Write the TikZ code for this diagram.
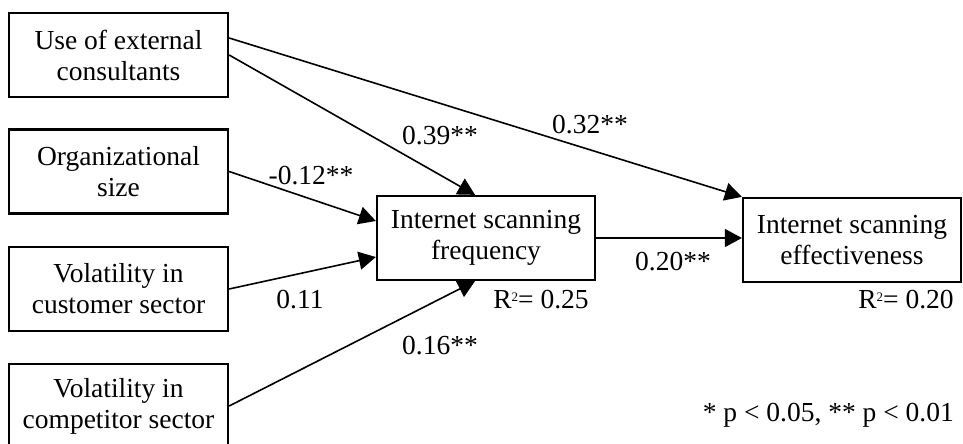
\documentclass[tikz,border=0pt]{standalone}
\usepackage{fontspec}
\setmainfont{Liberation Serif}
\usetikzlibrary{arrows.meta,calc}
\newcommand{\rsq}{R\raisebox{0.62ex}{\fontsize{13}{13}\selectfont 2}}
\begin{document}
\begin{tikzpicture}[x=1pt,y=-1pt,
  every node/.style={font=\fontsize{27.5}{31}\selectfont},
  varbox/.style={draw,line width=2.3pt,minimum width=219pt,minimum height=84pt,align=center,inner sep=0pt},
  path/.style={line width=1.6pt,-{Triangle[length=17pt,width=18pt]}},
  lbl/.style={inner sep=0pt}]
\clip (0,0) rectangle (963,444);
\node[varbox] (b1) at (118.5,55) {Use of external\\consultants};
\node[varbox] (b2) at (118.5,171.5) {Organizational\\size};
\node[varbox] (b3) at (118.5,289) {Volatility in\\customer sector};
\node[varbox] (b4) at (118.5,406) {Volatility in\\competitor sector};
\node[varbox,minimum width=218pt] (m) at (486,238) {Internet scanning\\frequency};
\node[varbox,minimum width=218pt] (r) at (852,240) {Internet scanning\\effectiveness};
\draw[path] ($(b1.east)+(0,-17)$) -- (r.north west);
\draw[path] (b1.east) -- ($(m.north)+(-11,0)$);
\draw[path] (b2.east) -- ($(m.west)+(0,-17)$);
\draw[path] (b3.east) -- ($(m.west)+(0,19)$);
\draw[path] (b4.east) -- ($(m.south)+(-11,0)$);
\draw[path] (m.east) -- (m.east -| r.west);
\node[lbl] (l39) at (440,136) {0.39**};
\node[lbl] (l32) at (590,125) {0.32**};
\node[lbl] (l12) at (311,176) {-0.12**};
\node[lbl] (l11) at (300,300) {0.11};
\node[lbl] (l16) at (440,346) {0.16**};
\node[lbl] (rsq1) at (541,300) {\rsq= 0.25};
\node[lbl] (l20) at (673,262) {0.20**};
\node[lbl] (rsq2) at (906,300) {\rsq= 0.20};
\node[lbl,anchor=east] (note) at (954,415) {* p < 0.05, ** p < 0.01};
\end{tikzpicture}
\end{document}
